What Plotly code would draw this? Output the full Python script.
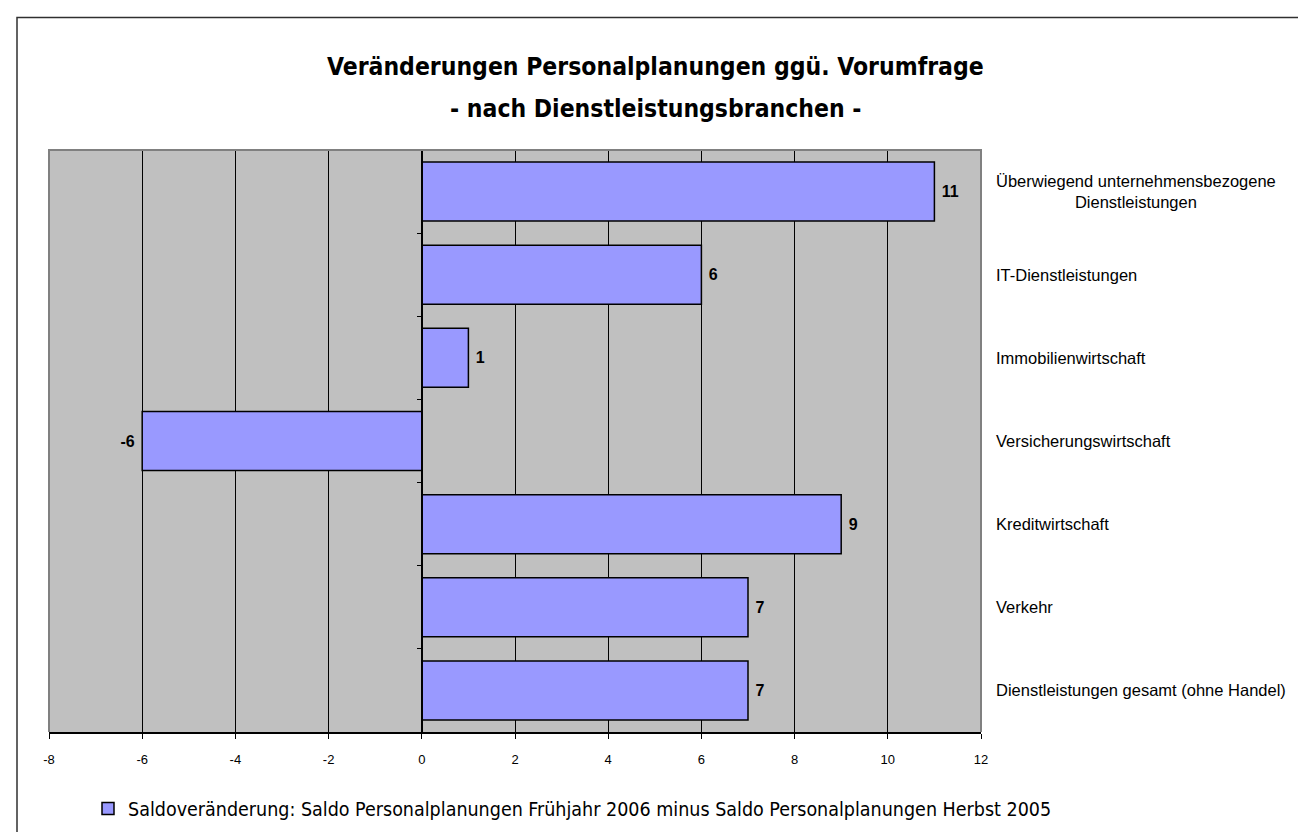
import plotly.graph_objects as go

categories = [
    "Überwiegend unternehmensbezogene<br>Dienstleistungen",
    "IT-Dienstleistungen",
    "Immobilienwirtschaft",
    "Versicherungswirtschaft",
    "Kreditwirtschaft",
    "Verkehr",
    "Dienstleistungen gesamt (ohne Handel)",
]
values = [11, 6, 1, -6, 9, 7, 7]
series_name = "Saldoveränderung: Saldo Personalplanungen Frühjahr 2006 minus Saldo Personalplanungen Herbst 2005"
title_lines = ["Veränderungen Personalplanungen ggü. Vorumfrage", "- nach Dienstleistungsbranchen -"]
x_ticks = list(range(-8, 13, 2))
x_tick_text = [str(v) for v in x_ticks]
value_text = [" " + str(v) + " " for v in values]

W, H = 1306, 832
L, R, T, B = 41, W - 973, 142, H - 726
PW, PH = W - L - R, H - T - B

def px_x(p):
    return (p - L) / PW

def px_y(p):
    return (H - B - p) / PH

fig = go.Figure()
fig.add_trace(go.Bar(
    y=categories, x=values, orientation="h",
    name=series_name,
    text=value_text, texttemplate="%{text}", textposition="outside", cliponaxis=False,
    marker=dict(color="#9999FF", line=dict(color="black", width=1.5)),
    textfont=dict(family="Liberation Sans", size=16, color="black", weight="bold"),
))

annotations = []
for c in categories:
    annotations.append(dict(
        x=1, xref="paper", y=c, yref="y", xshift=13, xanchor="left",
        text=c, showarrow=False, align="center",
        font=dict(family="Liberation Sans", size=16.5, color="black"),
    ))
for i, line in enumerate(title_lines):
    annotations.append(dict(
        x=px_x(647), xref="paper", y=px_y(58 + 42 * i), yref="paper",
        xanchor="center", yanchor="middle", text=line, showarrow=False,
        font=dict(family="DejaVu Sans Condensed", size=24.5, color="black", weight="bold"),
    ))

fig.update_layout(
    width=W, height=H,
    margin=dict(l=L, r=R, t=T, b=B),
    paper_bgcolor="white", plot_bgcolor="#C0C0C0",
    bargap=0.29,
    showlegend=True,
    legend=dict(orientation="h", x=px_x(80), y=px_y(803), xanchor="left", yanchor="middle",
                font=dict(family="DejaVu Sans Condensed", size=19.5, color="black"),
                bgcolor="rgba(0,0,0,0)"),
    xaxis=dict(range=[-8, 12], tickvals=x_ticks, ticktext=x_tick_text,
               showgrid=True, gridcolor="black", gridwidth=1,
               zeroline=False, showline=True, linecolor="black", linewidth=1.5,
               ticks="outside", ticklen=5, tickcolor="black", ticklabelstandoff=10,
               tickfont=dict(family="Liberation Sans", size=13, color="black")),
    yaxis=dict(type="category", categoryorder="array", categoryarray=categories,
               autorange="reversed", showticklabels=False, showgrid=False, zeroline=False,
               anchor="free", position=0.4, showline=True, linecolor="black", linewidth=1.5,
               ticks="outside", ticklen=4, tickcolor="black", tickson="boundaries"),
    annotations=annotations,
    shapes=[
        dict(type="path", xref="paper", yref="paper", path="M 0,0 L 0,1 L 1,1 L 1,0",
             line=dict(color="#808080", width=2), layer="above"),
        dict(type="rect", xref="paper", yref="paper",
             x0=px_x(9), x1=px_x(1291), y0=px_y(9), y1=px_y(845),
             line=dict(color="#303030", width=1.5)),
    ],
)

fig.write_html("out.html")
